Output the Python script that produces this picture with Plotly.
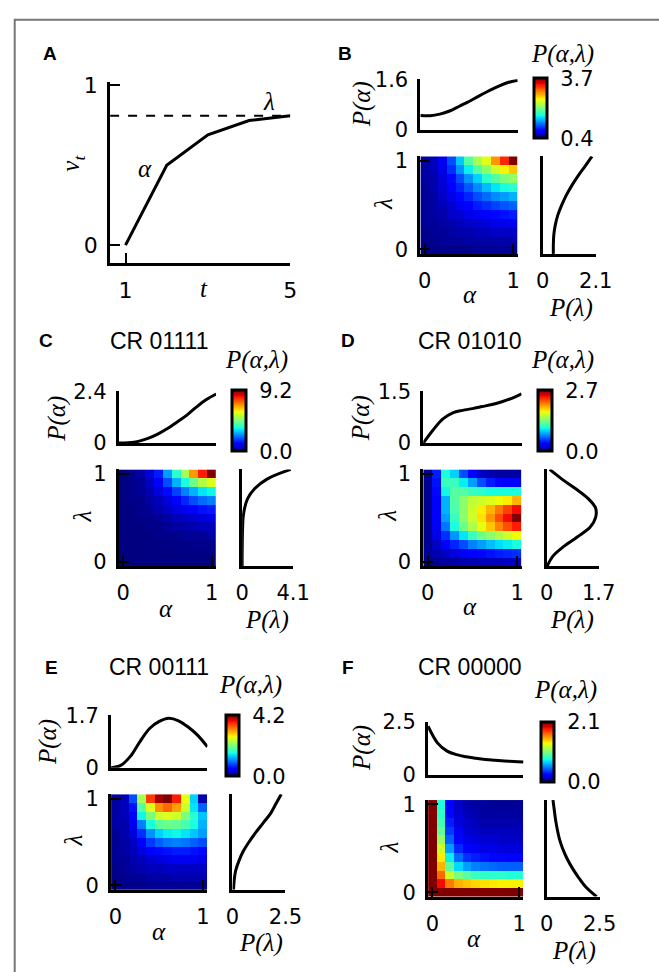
import plotly.graph_objects as go

W, H = 659, 972

# ---------------- DATA ----------------
# Panel A: learning curve
A_t = [1, 2, 3, 4, 5]
A_v = [0.0, 0.5, 0.69, 0.78, 0.81]
A_lambda = 0.81

alpha_grid = [0.0, 0.1, 0.2, 0.3, 0.4, 0.5, 0.6, 0.7, 0.8, 0.9, 1.0]
lambda_grid = [0.0, 0.1, 0.2, 0.3, 0.4, 0.5, 0.6, 0.7, 0.8, 0.9, 1.0]

# Panel B (prior)
B_title = ""
B_pa = [0.46, 0.45, 0.5, 0.6, 0.75, 0.9, 1.07, 1.23, 1.38, 1.5, 1.57]
B_pl = [0.42, 0.42, 0.44, 0.5, 0.6, 0.75, 0.93, 1.15, 1.4, 1.68, 1.95]
B_pa_max, B_pl_max = 1.6, 2.1
B_zmin, B_zmax = 0.4, 3.7
B_pa_ticks = ["0", "1.6"]
B_pl_ticks = ["0", "2.1"]
B_cb_ticks = ["0.4", "3.7"]
# rows from lambda = 1.0 (top) down to lambda = 0.0
B_heat = [
    [0.5, 0.57, 0.73, 1.06, 1.46, 1.89, 2.22, 2.45, 2.88, 3.27, 3.7],
    [0.5, 0.57, 0.7, 0.96, 1.29, 1.59, 1.89, 2.12, 2.38, 2.55, 2.71],
    [0.5, 0.53, 0.66, 0.83, 1.06, 1.29, 1.49, 1.72, 1.89, 2.05, 2.15],
    [0.47, 0.53, 0.63, 0.76, 0.93, 1.09, 1.26, 1.42, 1.56, 1.65, 1.72],
    [0.47, 0.5, 0.6, 0.7, 0.83, 0.93, 1.06, 1.16, 1.26, 1.32, 1.39],
    [0.47, 0.5, 0.57, 0.63, 0.73, 0.8, 0.9, 0.96, 1.03, 1.09, 1.13],
    [0.47, 0.5, 0.53, 0.6, 0.63, 0.7, 0.73, 0.8, 0.83, 0.86, 0.9],
    [0.47, 0.47, 0.5, 0.53, 0.57, 0.6, 0.63, 0.66, 0.7, 0.7, 0.73],
    [0.43, 0.47, 0.47, 0.5, 0.53, 0.53, 0.57, 0.57, 0.6, 0.6, 0.6],
    [0.43, 0.43, 0.47, 0.47, 0.47, 0.5, 0.5, 0.5, 0.5, 0.5, 0.53],
    [0.43, 0.43, 0.43, 0.43, 0.43, 0.43, 0.47, 0.47, 0.47, 0.47, 0.47],
]

# Panel C: CR 01111
C_title = "CR 01111"
C_pa = [0.0, 0.02, 0.08, 0.22, 0.42, 0.68, 0.98, 1.3, 1.68, 2.02, 2.28]
C_pl = [0.0, 0.0, 0.01, 0.02, 0.04, 0.08, 0.2, 0.45, 1.0, 2.0, 3.9]
C_pa_max, C_pl_max = 2.4, 4.1
C_zmin, C_zmax = 0.0, 9.2
C_pa_ticks = ["0", "2.4"]
C_pl_ticks = ["0", "4.1"]
C_cb_ticks = ["0.0", "9.2"]
C_heat = [
    [0.0, 0.09, 0.28, 0.74, 1.38, 2.58, 3.68, 5.06, 6.9, 8.1, 9.2],
    [0.0, 0.09, 0.18, 0.55, 1.1, 1.84, 2.76, 3.5, 4.42, 5.24, 5.7],
    [0.0, 0.09, 0.18, 0.37, 0.74, 1.2, 1.75, 2.3, 2.76, 3.22, 3.4],
    [0.0, 0.09, 0.09, 0.28, 0.46, 0.74, 1.1, 1.47, 1.84, 2.12, 2.3],
    [0.0, 0.0, 0.09, 0.18, 0.37, 0.55, 0.74, 0.92, 1.1, 1.29, 1.38],
    [0.0, 0.0, 0.09, 0.09, 0.18, 0.28, 0.46, 0.55, 0.64, 0.74, 0.83],
    [0.0, 0.0, 0.0, 0.09, 0.09, 0.18, 0.28, 0.28, 0.37, 0.46, 0.46],
    [0.0, 0.0, 0.0, 0.0, 0.09, 0.09, 0.09, 0.18, 0.18, 0.18, 0.28],
    [0.0, 0.0, 0.0, 0.0, 0.0, 0.05, 0.05, 0.05, 0.09, 0.09, 0.09],
    [0.0, 0.0, 0.0, 0.0, 0.0, 0.0, 0.0, 0.02, 0.02, 0.03, 0.03],
    [0.0, 0.0, 0.0, 0.0, 0.0, 0.0, 0.0, 0.0, 0.0, 0.0, 0.0],
]

# Panel D: CR 01010
D_title = "CR 01010"
D_pa = [0.0, 0.38, 0.7, 0.88, 0.95, 1.0, 1.06, 1.12, 1.2, 1.3, 1.43]
D_pl = [0.02, 0.2, 0.55, 1.0, 1.42, 1.6, 1.6, 1.35, 0.95, 0.5, 0.1]
D_pa_max, D_pl_max = 1.5, 1.7
D_zmin, D_zmax = 0.0, 2.7
D_pa_ticks = ["0", "1.5"]
D_pl_ticks = ["0", "1.7"]
D_cb_ticks = ["0.0", "2.7"]
D_heat = [
    [0.05, 0.41, 1.03, 0.89, 0.54, 0.3, 0.16, 0.11, 0.08, 0.08, 0.08],
    [0.05, 0.38, 1.13, 1.13, 0.97, 0.76, 0.54, 0.41, 0.35, 0.32, 0.32],
    [0.05, 0.35, 1.0, 1.22, 1.22, 1.13, 1.08, 1.03, 1.03, 1.03, 1.03],
    [0.05, 0.32, 0.81, 1.22, 1.4, 1.57, 1.62, 1.67, 1.73, 1.78, 1.94],
    [0.05, 0.32, 0.81, 1.19, 1.4, 1.62, 1.78, 1.94, 2.11, 2.27, 2.43],
    [0.05, 0.32, 0.76, 1.13, 1.4, 1.62, 1.81, 2.03, 2.24, 2.43, 2.7],
    [0.05, 0.27, 0.65, 1.03, 1.3, 1.51, 1.7, 1.89, 2.08, 2.24, 2.38],
    [0.05, 0.24, 0.46, 0.73, 0.95, 1.13, 1.3, 1.4, 1.51, 1.62, 1.73],
    [0.05, 0.16, 0.3, 0.43, 0.54, 0.68, 0.76, 0.84, 0.92, 0.97, 1.03],
    [0.05, 0.11, 0.16, 0.22, 0.27, 0.32, 0.35, 0.38, 0.41, 0.43, 0.46],
    [0.03, 0.05, 0.08, 0.08, 0.11, 0.11, 0.14, 0.14, 0.14, 0.16, 0.16],
]

# Panel E: CR 00111
E_title = "CR 00111"
E_pa = [0.0, 0.08, 0.37, 0.85, 1.27, 1.5, 1.6, 1.52, 1.32, 1.05, 0.68]
E_pl = [0.05, 0.08, 0.15, 0.3, 0.5, 0.78, 1.1, 1.45, 1.8, 2.05, 2.3]
E_pa_max, E_pl_max = 1.7, 2.5
E_zmin, E_zmax = 0.0, 4.2
E_pa_ticks = ["0", "1.7"]
E_pl_ticks = ["0", "2.5"]
E_cb_ticks = ["0.0", "4.2"]
E_heat = [
    [0.13, 0.21, 0.84, 2.31, 3.57, 4.07, 4.2, 3.7, 2.65, 1.39, 0.17],
    [0.13, 0.21, 0.59, 1.89, 2.6, 3.19, 3.36, 3.11, 2.52, 1.47, 0.92],
    [0.13, 0.21, 0.5, 1.55, 2.1, 2.52, 2.6, 2.52, 2.1, 1.68, 1.34],
    [0.13, 0.17, 0.42, 1.05, 1.6, 1.93, 2.02, 1.97, 1.85, 1.6, 1.26],
    [0.08, 0.17, 0.34, 0.71, 1.13, 1.39, 1.51, 1.55, 1.47, 1.34, 1.18],
    [0.08, 0.13, 0.25, 0.5, 0.76, 0.92, 1.01, 1.05, 1.01, 0.92, 0.84],
    [0.08, 0.13, 0.21, 0.34, 0.46, 0.55, 0.59, 0.63, 0.63, 0.59, 0.55],
    [0.08, 0.08, 0.17, 0.21, 0.29, 0.34, 0.38, 0.42, 0.42, 0.42, 0.38],
    [0.04, 0.08, 0.13, 0.17, 0.21, 0.21, 0.25, 0.25, 0.25, 0.25, 0.25],
    [0.04, 0.04, 0.08, 0.08, 0.13, 0.13, 0.13, 0.17, 0.17, 0.17, 0.17],
    [0.04, 0.04, 0.04, 0.04, 0.08, 0.08, 0.08, 0.08, 0.08, 0.08, 0.08],
]

# Panel F: CR 00000
F_title = "CR 00000"
F_pa = [2.3, 1.5, 1.12, 0.95, 0.85, 0.78, 0.72, 0.68, 0.65, 0.63, 0.6]
F_pl = [2.36, 1.85, 1.5, 1.2, 0.95, 0.75, 0.6, 0.5, 0.42, 0.36, 0.3]
F_pa_max, F_pl_max = 2.5, 2.5
F_zmin, F_zmax = 0.0, 2.1
F_pa_ticks = ["0", "2.5"]
F_pl_ticks = ["0", "2.5"]
F_cb_ticks = ["0.0", "2.1"]
F_heat = [
    [2.1, 0.8, 0.25, 0.13, 0.08, 0.06, 0.06, 0.04, 0.04, 0.04, 0.04],
    [2.1, 0.84, 0.27, 0.15, 0.11, 0.08, 0.06, 0.06, 0.06, 0.06, 0.06],
    [2.1, 0.9, 0.32, 0.17, 0.13, 0.11, 0.08, 0.08, 0.08, 0.08, 0.08],
    [2.1, 0.99, 0.38, 0.21, 0.15, 0.13, 0.11, 0.11, 0.11, 0.11, 0.11],
    [2.1, 1.11, 0.46, 0.25, 0.19, 0.17, 0.15, 0.15, 0.13, 0.13, 0.13],
    [2.1, 1.26, 0.59, 0.34, 0.25, 0.21, 0.19, 0.19, 0.17, 0.17, 0.17],
    [2.1, 1.39, 0.76, 0.48, 0.36, 0.32, 0.29, 0.27, 0.27, 0.25, 0.25],
    [2.1, 1.51, 0.97, 0.71, 0.59, 0.53, 0.5, 0.48, 0.46, 0.46, 0.46],
    [2.1, 1.68, 1.26, 1.05, 0.95, 0.88, 0.86, 0.84, 0.84, 0.82, 0.82],
    [2.1, 1.89, 1.64, 1.51, 1.47, 1.43, 1.41, 1.39, 1.37, 1.37, 1.37],
    [2.1, 2.1, 2.1, 2.1, 2.1, 2.1, 2.1, 2.1, 2.1, 2.1, 2.1],
]

# ---------------- STYLE ----------------
JET = [
    [0.0, "rgb(0,0,128)"], [0.11, "rgb(0,0,255)"], [0.125, "rgb(0,0,255)"],
    [0.34, "rgb(0,219,255)"], [0.35, "rgb(0,229,247)"], [0.375, "rgb(21,255,226)"],
    [0.64, "rgb(239,255,8)"], [0.65, "rgb(247,245,0)"], [0.66, "rgb(255,236,0)"],
    [0.89, "rgb(255,19,0)"], [0.91, "rgb(232,0,0)"], [1.0, "rgb(128,0,0)"],
]
SANS = "DejaVu Sans"
SERIF = "Liberation Serif"
TICK_SIZE = 21
LAB_SIZE = 25


def fx(px):
    return px / W


def fy(py):
    return 1 - py / H


fig = go.Figure()
layout = dict(width=W, height=H, margin=dict(l=0, r=0, t=0, b=0),
              paper_bgcolor="white", plot_bgcolor="rgba(0,0,0,0)",
              showlegend=False, annotations=[], shapes=[])
counter = [0]


def base_axis():
    return dict(showline=True, linecolor="black", linewidth=3, ticks="inside",
                ticklen=10, tickwidth=2, tickcolor="black", showgrid=False,
                zeroline=False, fixedrange=True,
                tickfont=dict(family=SANS, size=TICK_SIZE, color="black"))


def add_axes(box, xr, yr, xt, yt, xtt=None, ytt=None, tsize=TICK_SIZE):
    counter[0] += 1
    n = counter[0]
    sx = "" if n == 1 else str(n)
    x0, x1, y0, y1 = box
    xa = base_axis()
    xa.update(domain=[fx(x0), fx(x1)], range=xr, anchor="y" + sx,
              tickvals=xt, tickmode="array", ticklabelstandoff=6)
    ya = base_axis()
    ya.update(domain=[fy(y1), fy(y0)], range=yr, anchor="x" + sx,
              tickvals=yt, tickmode="array", ticklabelstandoff=5)
    xa["tickfont"]["size"] = tsize
    ya["tickfont"]["size"] = tsize
    if xtt is None:
        xa["showticklabels"] = False
    else:
        xa["ticktext"] = xtt
    if ytt is None:
        ya["showticklabels"] = False
    else:
        ya["ticktext"] = ytt
    layout["xaxis" + sx] = xa
    layout["yaxis" + sx] = ya
    return "x" + sx, "y" + sx


def ann(text, x, y, size=LAB_SIZE, family=SERIF, angle=0, xanchor="center",
        yanchor="middle"):
    layout["annotations"].append(dict(
        text=text, x=fx(x), y=fy(y), xref="paper", yref="paper",
        showarrow=False, textangle=angle, xanchor=xanchor, yanchor=yanchor,
        font=dict(family=family, size=size, color="black")))


def line(xr, yr, xs, ys, dash=None, width=3, shape="spline"):
    fig.add_trace(go.Scatter(x=xs, y=ys, xaxis=xr, yaxis=yr, mode="lines",
                             line=dict(color="black", width=width, dash=dash,
                                       shape=shape),
                             cliponaxis=False, hoverinfo="skip"))


# ---------------- PANEL A ----------------
ax, ay = add_axes((107, 294, 72, 257), [0.626, 5.0], [-0.11, 1.02], [1, 5], [0, 1],
                  ["1", "5"], ["0", "1"], tsize=22)
line(ax, ay, [0.626, 5.0], [A_lambda, A_lambda], dash="dash", width=2, shape="linear")
line(ax, ay, A_t, A_v, shape="linear")
ann("<b>A</b>", 45, 43, size=19, family="Liberation Sans")
ann("<i>α</i>", 143, 160)
ann("<i>λ</i>", 272, 92)
ann("<i>v</i><sub><i>t</i></sub>", 68, 155, angle=-90)
ann("<i>t</i>", 204, 283)

# ---------------- PANELS B-F ----------------
panels = [
    dict(letter="B", title=B_title, pa=B_pa, pl=B_pl, pam=B_pa_max, plm=B_pl_max,
         zmin=B_zmin, zmax=B_zmax, pat=B_pa_ticks, plt=B_pl_ticks, cbt=B_cb_ticks,
         heat=B_heat,
         marg=(429, 530, 69, 121), hm=(429, 530, 148, 248), pl_box=(556, 611, 148, 248),
         cb=(547, 560, 68, 128), let_xy=(351, 43), tit_xy=None, cbl_xy=(577, 43),
         pay=(368, 95), lamy=(390, 197), alx=(480, 290), plx=(585, 303)),
    dict(letter="C", title=C_title, pa=C_pa, pl=C_pl, pam=C_pa_max, plm=C_pl_max,
         zmin=C_zmin, zmax=C_zmax, pat=C_pa_ticks, plt=C_pl_ticks, cbt=C_cb_ticks,
         heat=C_heat,
         marg=(116, 217, 389, 442), hm=(116, 217, 469, 568), pl_box=(244, 297, 469, 568),
         cb=(234, 248, 388, 449), let_xy=(40, 337), tit_xy=(158, 337), cbl_xy=(259, 357),
         pay=(52, 417), lamy=(78, 517), alx=(165, 612), plx=(270, 623)),
    dict(letter="D", title=D_title, pa=D_pa, pl=D_pl, pam=D_pa_max, plm=D_pl_max,
         zmin=D_zmin, zmax=D_zmax, pat=D_pa_ticks, plt=D_pl_ticks, cbt=D_cb_ticks,
         heat=D_heat,
         marg=(432, 534, 389, 442), hm=(432, 534, 469, 568), pl_box=(560, 614, 469, 568),
         cb=(551, 565, 388, 449), let_xy=(354, 337), tit_xy=(481, 337), cbl_xy=(576, 357),
         pay=(367, 417), lamy=(395, 517), alx=(481, 610), plx=(586, 623)),
    dict(letter="E", title=E_title, pa=E_pa, pl=E_pl, pam=E_pa_max, plm=E_pl_max,
         zmin=E_zmin, zmax=E_zmax, pat=E_pa_ticks, plt=E_pl_ticks, cbt=E_cb_ticks,
         heat=E_heat,
         marg=(108, 208, 721, 775), hm=(108, 208, 802, 900), pl_box=(234, 289, 802, 900),
         cb=(227, 240, 721, 782), let_xy=(46, 672), tit_xy=(158, 672), cbl_xy=(253, 690),
         pay=(42, 748), lamy=(68, 850), alx=(158, 943), plx=(264, 955)),
    dict(letter="F", title=F_title, pa=F_pa, pl=F_pl, pam=F_pa_max, plm=F_pl_max,
         zmin=F_zmin, zmax=F_zmax, pat=F_pa_ticks, plt=F_pl_ticks, cbt=F_cb_ticks,
         heat=F_heat,
         marg=(437, 536, 728, 782), hm=(437, 536, 808, 907), pl_box=(560, 615, 808, 907),
         cb=(554, 567, 728, 788), let_xy=(354, 672), tit_xy=(481, 672), cbl_xy=(580, 695),
         pay=(369, 755), lamy=(397, 857), alx=(485, 950), plx=(588, 963)),
]

for p in panels:
    # top marginal P(alpha)
    mx, my = add_axes(p["marg"], [0, 1], [0, p["pam"]], [0, 1], [0, p["pam"]],
                      None, p["pat"])
    line(mx, my, alpha_grid, p["pa"])
    # joint heatmap
    hx, hy = add_axes(p["hm"], [-0.05, 1.05], [-0.05, 1.05], [0, 1], [0, 1],
                      ["0", "1"], ["0", "1"])
    cx0, cx1, cy0, cy1 = p["cb"]
    fig.add_trace(go.Heatmap(
        z=p["heat"][::-1], x=alpha_grid, y=lambda_grid, xaxis=hx, yaxis=hy,
        colorscale=JET, zmin=p["zmin"], zmax=p["zmax"], hoverinfo="skip",
        colorbar=dict(x=fx(cx0), xanchor="left", y=fy(cy0), yanchor="top",
                      len=cy1 - cy0, lenmode="pixels", thickness=cx1 - cx0,
                      thicknessmode="pixels", outlinewidth=3, outlinecolor="black",
                      tickvals=[p["zmin"], p["zmax"]], ticktext=p["cbt"],
                      ticks="outside", ticklen=8, tickcolor="rgba(0,0,0,0)",
                      tickfont=dict(family=SANS, size=TICK_SIZE, color="black"),
                      xpad=0, ypad=0, borderwidth=0)))
    # right marginal P(lambda)
    lx, ly = add_axes(p["pl_box"], [0, p["plm"]], [0, 1], [0, p["plm"]], [0, 1],
                      p["plt"], None)
    line(lx, ly, p["pl"], lambda_grid)
    # text
    ann("<b>%s</b>" % p["letter"], *p["let_xy"], size=19, family="Liberation Sans")
    if p["tit_xy"]:
        ann(p["title"], *p["tit_xy"], size=23, family="Liberation Sans")
    ann("<i>P(α,λ)</i>", *p["cbl_xy"])
    ann("<i>P(α)</i>", *p["pay"], angle=-90)
    ann("<i>λ</i>", *p["lamy"], angle=-90)
    ann("<i>α</i>", *p["alx"])
    ann("<i>P(λ)</i>", *p["plx"])

# frame
layout["shapes"].append(dict(type="rect", xref="paper", yref="paper",
                             x0=fx(8), x1=fx(720), y0=fy(1020), y1=fy(8),
                             line=dict(color="#777777", width=2)))

fig.update_layout(**layout)
fig.write_html("out.html", config={"displayModeBar": False, "staticPlot": True},
               post_script="document.body.style.margin='0px';"
                           "document.body.style.overflow='hidden';")
